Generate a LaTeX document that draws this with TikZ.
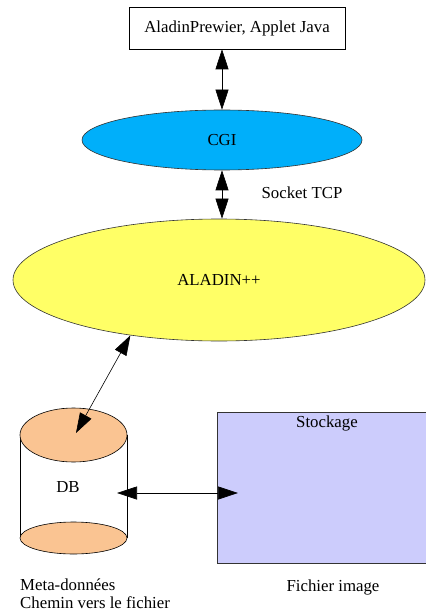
\documentclass[tikz,border=0pt]{standalone}
\usepackage{fontspec}
\setmainfont{Liberation Serif}
\usetikzlibrary{arrows.meta,shapes.geometric}
\definecolor{cgiblue}{RGB}{0,175,250}
\definecolor{aladinyellow}{RGB}{255,255,102}
\definecolor{peach}{RGB}{250,196,146}
\definecolor{lavender}{RGB}{204,204,252}
\tikzset{
  txt/.style={font=\fontsize{16.8}{18}\selectfont, inner sep=0pt},
  bigarrow/.style={line width=0.6pt, {Triangle[length=20pt,width=13pt]}-{Triangle[length=20pt,width=13pt]}},
  ell/.style={ellipse, draw=black!80, line width=0.6pt, inner sep=0pt, font=\fontsize{16.8}{18}\selectfont},
}
\begin{document}
\begin{tikzpicture}[x=1pt,y=-1pt]
\useasboundingbox (0,0) rectangle (425,612);
% top box
\node[draw, line width=0.6pt, minimum width=216pt, minimum height=42pt, txt] (app) at (237,28) {AladinPrewier, Applet Java};
% CGI
\node[ell, fill=cgiblue, minimum width=280pt, minimum height=60pt] (cgi) at (222,140) {CGI};
% ALADIN++
\node[ell, fill=aladinyellow, minimum width=412pt, minimum height=122pt] (aladin) at (219,280) {ALADIN++};
% Socket TCP label
\node[txt] (sock) at (302,193) {Socket TCP};
% Stockage box
\fill[lavender] (217,412) rectangle (432,563);
\draw[black!80, line width=0.6pt] (432,412) -- (217,412) -- (217,563) -- (432,563);
\node[txt] (stock) at (327,423) {Stockage};
\node[txt] (fich) at (333,587) {Fichier image};
% DB cylinder
\fill[white] (20,435) rectangle (127,538);
\draw[line width=0.6pt] (20,435) -- (20,538);
\draw[line width=0.6pt] (127,435) -- (127,538);
\draw[fill=peach, line width=0.6pt] (73.5,538) ellipse [x radius=53.5pt, y radius=16pt];
\draw[fill=peach, line width=0.6pt] (73.5,435) ellipse [x radius=53.5pt, y radius=27pt];
\coordinate (dbtop) at (76,433);
\node[txt] (db) at (68,487) {DB};
\node[txt, anchor=north west, align=left] (meta) at (20,579) {Meta-données\\Chemin vers le fichier};
% connectors
\coordinate (dbr) at (117,493);
\coordinate (stl) at (238,493);
\draw[bigarrow] (cgi.north |- app.south) -- (cgi.north);
\draw[bigarrow] (cgi.south) -- (cgi.south |- aladin.north);
\draw[bigarrow] (aladin.212.6) -- (dbtop);
\draw[bigarrow] (dbr) -- (stl);
\end{tikzpicture}
\end{document}
